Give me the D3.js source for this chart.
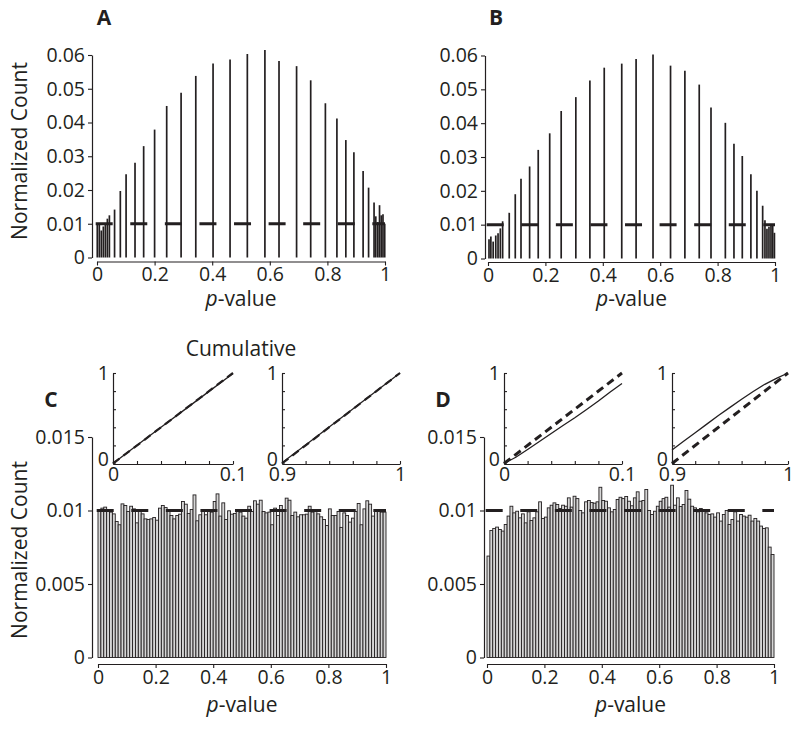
<!DOCTYPE html>
<html>
<head>
<meta charset="utf-8">
<script src="https://cdn.jsdelivr.net/npm/d3@7"></script>
<style>
html,body{margin:0;padding:0;background:#fff;}
svg{display:block;}
</style>
</head>
<body>
<div id="chart"></div>
<script>
// ---------------- DATA ----------------
// Panel A: discrete p-values and normalized counts
const pA = [0.001,0.008,0.015,0.022,0.029,0.036,0.043,0.061,0.081,0.101,0.132,0.162,0.2,0.242,0.292,0.343,0.403,0.462,0.522,0.583,0.632,0.693,0.742,0.793,0.833,0.864,0.892,0.924,0.943,0.962,0.968,0.975,0.981,0.987,0.993,0.999];
const vA = [0.0100,0.0097,0.0080,0.0092,0.0100,0.0115,0.0125,0.0142,0.0197,0.0247,0.0281,0.0330,0.0379,0.0449,0.0488,0.0538,0.0575,0.0587,0.0603,0.0615,0.0582,0.0567,0.0525,0.0457,0.0412,0.0348,0.0312,0.0256,0.0207,0.0163,0.0122,0.0105,0.0155,0.0125,0.0128,0.0100];
// Panel B
const pB = [0.0035,0.01,0.018,0.027,0.035,0.043,0.051,0.074,0.095,0.115,0.145,0.175,0.215,0.255,0.306,0.355,0.405,0.466,0.516,0.575,0.636,0.686,0.736,0.777,0.827,0.857,0.886,0.916,0.937,0.957,0.965,0.972,0.979,0.986,0.992,0.998];
const vB = [0.0057,0.0065,0.0050,0.0068,0.0075,0.0089,0.0110,0.0135,0.0190,0.0236,0.0272,0.0321,0.0370,0.0436,0.0477,0.0526,0.0564,0.0576,0.0590,0.0603,0.0570,0.0555,0.0514,0.0446,0.0401,0.0339,0.0303,0.0249,0.0200,0.0156,0.0113,0.0088,0.0094,0.0102,0.0098,0.0076];
// Panel C: 100 bins of width 0.01
const vC = [0.01000,0.01016,0.01023,0.01007,0.00989,0.00977,0.00925,0.00903,0.01045,0.01034,
0.00993,0.01029,0.01011,0.00916,0.01007,0.00977,0.00943,0.00939,0.00943,0.00952,
0.00934,0.01016,0.01034,0.01020,0.00993,0.00966,0.00943,0.00966,0.00975,0.01061,
0.01043,0.00980,0.01007,0.01106,0.00930,0.00971,0.01007,0.00971,0.01007,0.00989,
0.01061,0.01113,0.00962,0.01052,0.00939,0.00998,0.00975,0.00980,0.01007,0.00989,
0.00962,0.00948,0.01029,0.00993,0.01066,0.01043,0.01070,0.00993,0.00984,0.00989,
0.00903,0.01016,0.00966,0.01034,0.01007,0.01084,0.01070,0.00966,0.00989,0.00957,
0.00971,0.00971,0.00975,0.01029,0.00989,0.01007,0.00977,0.00957,0.00939,0.00898,
0.01011,0.00966,0.00966,0.00993,0.00885,0.00984,0.00966,0.00921,0.00948,0.00993,
0.01048,0.00903,0.01011,0.01066,0.01043,0.00962,0.00998,0.01007,0.00989,0.00989];
// Panel D
const vD = [0.00690,0.00864,0.00878,0.00887,0.00871,0.00860,0.00905,0.00962,0.01029,0.00984,
0.00995,0.00950,0.00977,0.00916,0.00991,0.00932,0.00950,0.00991,0.01059,0.00946,
0.00955,0.01018,0.01036,0.01052,0.01041,0.01014,0.01036,0.01029,0.01086,0.01023,
0.01097,0.01081,0.01000,0.00984,0.01059,0.01068,0.01054,0.01050,0.01059,0.01158,
0.01068,0.01063,0.01018,0.00991,0.01007,0.01075,0.01090,0.01081,0.01095,0.01063,
0.01032,0.01086,0.01127,0.01063,0.01068,0.01143,0.01000,0.00973,0.00995,0.01029,
0.01063,0.01081,0.01090,0.01023,0.01172,0.01036,0.01086,0.01027,0.01041,0.01136,
0.01077,0.01029,0.01018,0.00991,0.01014,0.00995,0.00984,0.00973,0.00977,0.00955,
0.00984,0.00928,0.00973,0.01000,0.00905,0.00939,0.00991,0.00928,0.00973,0.00962,
0.00955,0.00968,0.00928,0.00946,0.00928,0.00894,0.00878,0.00882,0.00751,0.00701];
const binWidth = 0.01;
const expectedLevel = 0.01;

// Inset cumulative curves [p, normalized cumulative]
const insetC1 = [[0,0],[0.02,0.202],[0.04,0.401],[0.06,0.598],[0.08,0.797],[0.1,0.995]];
const insetC2 = [[0.9,0.008],[0.92,0.205],[0.94,0.404],[0.96,0.602],[0.98,0.8],[1,1]];
const insetD1 = [[0,0],[0.01,0.069],[0.02,0.155],[0.03,0.243],[0.04,0.332],[0.05,0.419],[0.06,0.505],[0.07,0.596],[0.08,0.69],[0.09,0.79],[0.1,0.885]];
const insetD2 = [[0.9,0.15],[0.91,0.245],[0.92,0.34],[0.93,0.435],[0.94,0.53],[0.95,0.62],[0.96,0.71],[0.97,0.795],[0.98,0.875],[0.99,0.94],[1,1]];

// Ticks
const xTicks = [0,0.2,0.4,0.6,0.8,1];
const xTickLabels = ["0","0.2","0.4","0.6","0.8","1"];
const yTicksAB = [0,0.01,0.02,0.03,0.04,0.05,0.06];
const yTickLabelsAB = ["0","0.01","0.02","0.03","0.04","0.05","0.06"];
const yTicksCD = [0,0.005,0.01,0.015];
const yTickLabelsCD = ["0","0.005","0.01","0.015"];
const insetXTicksLo = [0,0.02,0.04,0.06,0.08,0.1];
const insetXLabelsLo = ["0","","","","","0.1"];
const insetXTicksHi = [0.9,0.92,0.94,0.96,0.98,1];
const insetXLabelsHi = ["0.9","","","","","1"];
const insetYTicks = [0,0.2,0.4,0.6,0.8,1];
const insetYLabels = ["0","","","","","1"];

// ---------------- DRAW ----------------
const W = 800, H = 732;
const FONT = "'Open Sans', 'Noto Sans', sans-serif";
const FS = 19.5;      // numbers
const FSW = 21;       // words
const INK = "#231f20";

const svg = d3.select("#chart").append("svg").attr("width", W).attr("height", H)
  .style("font-family", FONT);
svg.append("rect").attr("width", W).attr("height", H).attr("fill", "#fff");

function styleAxis(g) {
  g.attr("font-family", FONT).attr("font-size", FS);
  g.select(".domain").attr("stroke", INK).attr("stroke-width", 1.2);
  g.selectAll(".tick line").attr("stroke", INK).attr("stroke-width", 1.1);
  g.selectAll(".tick text").attr("fill", INK);
}

function labelFrom(ticks, labels) {
  return d => { const i = ticks.findIndex(t => Math.abs(t - d) < 1e-9); return i >= 0 ? labels[i] : ""; };
}

function mainAxes(cfg) {
  const gy = svg.append("g").attr("transform", `translate(${cfg.yAxisX},0)`)
    .call(d3.axisLeft(cfg.y).tickValues(cfg.yTicks).tickFormat(labelFrom(cfg.yTicks, cfg.yLabels))
      .tickSizeInner(4).tickSizeOuter(0).tickPadding(3));
  styleAxis(gy);
  const gx = svg.append("g").attr("transform", `translate(0,${cfg.xAxisY})`)
    .call(d3.axisBottom(cfg.x).tickValues(xTicks).tickFormat(labelFrom(xTicks, xTickLabels))
      .tickSizeInner(4).tickSizeOuter(0).tickPadding(2));
  styleAxis(gx);
  const t = svg.append("text").attr("x", (cfg.x.range()[0] + cfg.x.range()[1]) / 2).attr("y", cfg.xLabelY)
    .attr("text-anchor", "middle").attr("font-size", FSW).attr("fill", INK);
  t.append("tspan").attr("font-style", "italic").text("p");
  t.append("tspan").text("-value");
}

function dashed(x, y) {
  svg.append("line")
    .attr("x1", x(0) - 1.3).attr("x2", x(1)).attr("y1", y(expectedLevel)).attr("y2", y(expectedLevel))
    .attr("stroke", INK).attr("stroke-width", 3).attr("stroke-dasharray", "17,17.58");
}

function panelLetter(txt, x, y) {
  svg.append("text").attr("x", x).attr("y", y).attr("font-size", 21).attr("font-weight", "bold")
    .attr("fill", INK).attr("text-anchor", "middle").text(txt);
}

function yLabel(x, y) {
  svg.append("text").attr("transform", `translate(${x},${y}) rotate(-90)`)
    .attr("text-anchor", "middle").attr("font-size", FSW).attr("fill", INK).text("Normalized Count");
}

// ---- Panels A & B (stick histograms)
function stickPanel(p, v, cfg) {
  const x = d3.scaleLinear().domain([0, 1]).range([cfg.x0, cfg.x1]);
  const y = d3.scaleLinear().domain([0, 0.06]).range([cfg.yb, cfg.yt]);
  svg.append("g").selectAll("line").data(p).join("line")
    .attr("x1", d => x(d)).attr("x2", d => x(d))
    .attr("y1", y(0)).attr("y2", (d, i) => y(v[i]))
    .attr("stroke", INK).attr("stroke-width", 1.7);
  dashed(x, y);
  mainAxes({x, y, yAxisX: cfg.yAxisX, xAxisY: cfg.xAxisY, yTicks: yTicksAB, yLabels: yTickLabelsAB, xLabelY: cfg.xLabelY});
}

stickPanel(pA, vA, {x0: 97, x1: 385, yb: 257.5, yt: 55, yAxisX: 92, xAxisY: 261.5, xLabelY: 306});
stickPanel(pB, vB, {x0: 488, x1: 775, yb: 258.5, yt: 55.5, yAxisX: 485, xAxisY: 262, xLabelY: 306});
panelLetter("A", 104, 25);
panelLetter("B", 496, 25);
yLabel(27, 151);

// ---- Panels C & D (100-bin histograms)
function binPanel(v, cfg) {
  const x = d3.scaleLinear().domain([0, 1]).range([cfg.x0, cfg.x1]);
  const y = d3.scaleLinear().domain([0, 0.015]).range([cfg.yb, cfg.yt]);
  svg.append("g").selectAll("rect").data(v).join("rect")
    .attr("x", (d, i) => x(i * binWidth)).attr("width", x(binWidth) - x(0))
    .attr("y", d => y(d)).attr("height", d => y(0) - y(d))
    .attr("fill", "#d6d6d6").attr("stroke", INK).attr("stroke-width", 0.9);
  dashed(x, y);
  mainAxes({x, y, yAxisX: cfg.yAxisX, xAxisY: cfg.xAxisY, yTicks: yTicksCD, yLabels: yTickLabelsCD, xLabelY: cfg.xLabelY});
}
binPanel(vC, {x0: 98, x1: 386, yb: 657.5, yt: 437, yAxisX: 92, xAxisY: 664, xLabelY: 712});
binPanel(vD, {x0: 487, x1: 774, yb: 657.5, yt: 437, yAxisX: 484, xAxisY: 664, xLabelY: 712});
panelLetter("C", 51, 407);
panelLetter("D", 443, 407);
yLabel(27, 550);

// ---- Insets
function inset(data, cfg) {
  const x = d3.scaleLinear().domain(cfg.dom).range([cfg.x0, cfg.x1]);
  const y = d3.scaleLinear().domain([0, 1]).range([463.5, 373]);
  const g = svg.append("g");
  const line = d3.line().x(d => x(d[0])).y(d => y(d[1]));
  g.append("path").datum(data).attr("d", line).attr("fill", "none").attr("stroke", INK).attr("stroke-width", 1.3);
  g.append("path").datum([[cfg.dom[0], 0], [cfg.dom[1], 1]]).attr("d", line)
    .attr("fill", "none").attr("stroke", INK).attr("stroke-width", cfg.dashW).attr("stroke-dasharray", "8,5");
  const gx = svg.append("g").attr("transform", "translate(0,464)")
    .call(d3.axisBottom(x).tickValues(cfg.ticks).tickFormat(labelFrom(cfg.ticks, cfg.labels))
      .tickSizeInner(-3).tickSizeOuter(0).tickPadding(3));
  styleAxis(gx);
  const gy = svg.append("g").attr("transform", `translate(${cfg.x0},0)`)
    .call(d3.axisLeft(y).tickValues(insetYTicks).tickFormat(labelFrom(insetYTicks, insetYLabels))
      .tickSizeInner(-3).tickSizeOuter(0).tickPadding(4));
  styleAxis(gy);
  gy.selectAll(".tick text").attr("dy", (d) => d === 0 ? "0.1em" : "0.32em");
}
inset(insetC1, {dom: [0, 0.1], x0: 113, x1: 233, ticks: insetXTicksLo, labels: insetXLabelsLo, dashW: 2.2});
inset(insetC2, {dom: [0.9, 1], x0: 282, x1: 400, ticks: insetXTicksHi, labels: insetXLabelsHi, dashW: 2.2});
inset(insetD1, {dom: [0, 0.1], x0: 504, x1: 622, ticks: insetXTicksLo, labels: insetXLabelsLo, dashW: 3});
inset(insetD2, {dom: [0.9, 1], x0: 672, x1: 788, ticks: insetXTicksHi, labels: insetXLabelsHi, dashW: 3});

svg.append("text").attr("x", 241).attr("y", 356).attr("text-anchor", "middle")
  .attr("font-size", FSW).attr("fill", INK).text("Cumulative");
</script>
</body>
</html>
